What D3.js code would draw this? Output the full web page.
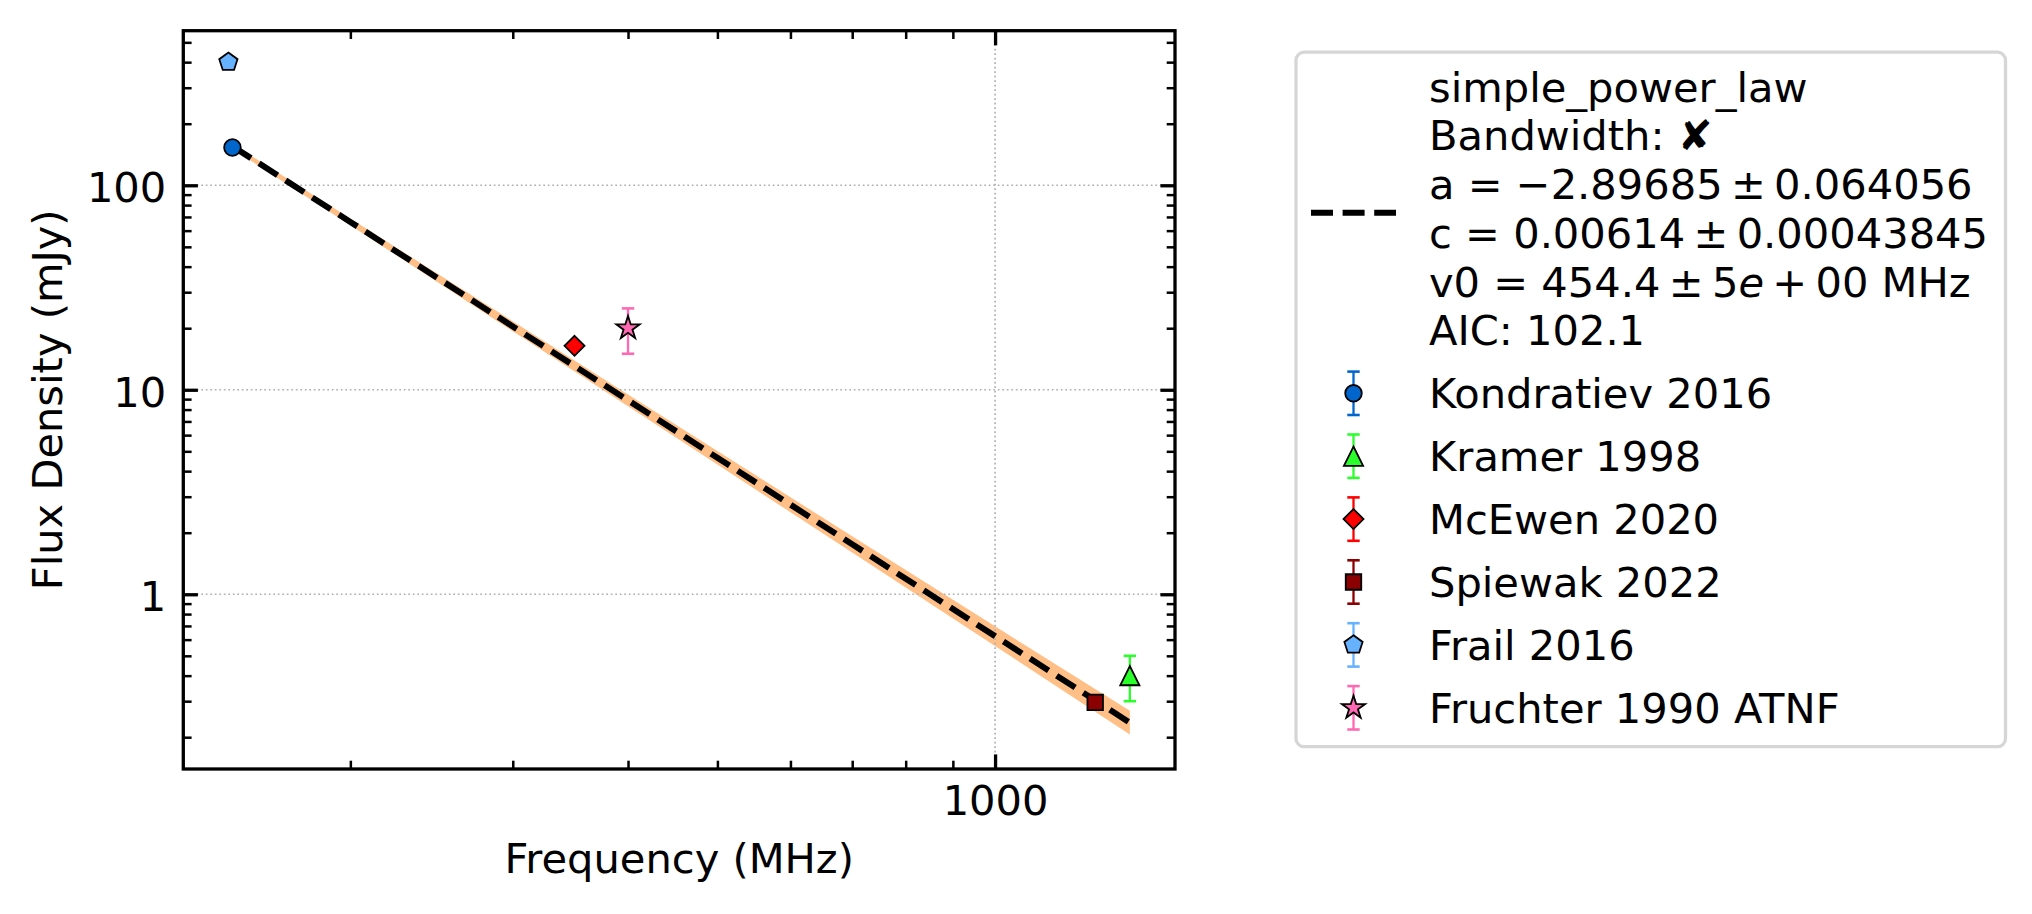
<!DOCTYPE html>
<html>
<head>
<meta charset="utf-8">
<script src="https://cdn.jsdelivr.net/npm/d3@7"></script>
<style>
    body { margin: 0; background: #fff; }
    text { font-family: "DejaVu Sans", sans-serif; }
</style>
</head>
<body>
<div id="chart"></div>
<script>
// measured points, one entry per survey
var seriesNames = ['Kondratiev 2016', 'Kramer 1998', 'McEwen 2020', 'Spiewak 2022', 'Frail 2016', 'Fruchter 1990 ATNF'];
var seriesColors = ['#0066cc', '#2bff2b', '#ff0000', '#8b0000', '#66b2ff', '#ff69b4'];
var seriesMarkers = ['circle', 'triangle', 'diamond', 'square', 'pentagon', 'star'];
var freqMHz = [149, 1400, 350, 1284, 147.5, 400];
var fluxMJy = [153, 0.4, 16.4, 0.296, 400, 20];
var fluxErr = [5, 0.1, 0.5, 0.01, 10, 5];

// fitted power law and its uncertainty band
var fitFreq = [149, 200, 300, 400, 500, 700, 1000, 1400];
var fitFlux = [155.2, 66.2, 20.4, 8.88, 4.65, 1.756, 0.624, 0.2357];
var fitLower = [151.0, 63.8, 19.3, 8.31, 4.31, 1.60, 0.559, 0.206];
var fitUpper = [159.5, 68.7, 21.6, 9.49, 5.02, 1.92, 0.697, 0.269];

var fitLabel = [
    'simple_power_law',
    'Bandwidth: \u2718',
    'a = \u22122.89685\u2009\u00b1\u20090.064056',
    'c = 0.00614\u2009\u00b1\u20090.00043845',
    'v0 = 454.4\u2009\u00b1\u20095{e}\u2009+\u200900 MHz',
    'AIC: 102.1'
];

// axes
var xDomain = [131.8, 1567];
var yDomain = [0.1398, 570];
var xMajor = [1000];
var xMinor = [200, 300, 400, 500, 600, 700, 800, 900];
var yMajor = [1, 10, 100];
var yMinor = [0.2, 0.3, 0.4, 0.5, 0.6, 0.7, 0.8, 0.9, 2, 3, 4, 5, 6, 7, 8, 9,
    20, 30, 40, 50, 60, 70, 80, 90, 200, 300, 400, 500];
var xTitle = 'Frequency (MHz)';
var yTitle = 'Flux Density (mJy)';

var W = 2032, H = 914, FS = 41.6;
var L = 183.3, R = 1175, T = 30.7, B = 769;

var svg = d3.select('#chart').append('svg').attr('width', W).attr('height', H);

var x = d3.scaleLog().domain(xDomain).range([L, R]);
var y = d3.scaleLog().domain(yDomain).range([B, T]);

/* --------- MARKERS ---------*/
function polygonSymbol(pts) {
    return {
        draw: function (context, size) {
            var r = Math.sqrt(size);
            pts.forEach(function (p, i) {
                if (i === 0) context.moveTo(p[0] * r, p[1] * r);
                else context.lineTo(p[0] * r, p[1] * r);
            });
            context.closePath();
        }
    };
}
var pentPts = [0, 1, 2, 3, 4].map(function (i) {
    var a = -Math.PI / 2 + i * 2 * Math.PI / 5;
    return [Math.cos(a), Math.sin(a)];
});
var markerDefs = {
    circle: { type: d3.symbolCircle, size: Math.PI * 8.3 * 8.3 },
    square: { type: d3.symbolSquare, size: 15.5 * 15.5 },
    triangle: { type: polygonSymbol([[0, -1], [-1, 1], [1, 1]]), size: 9.6 * 9.6 },
    diamond: { type: polygonSymbol([[0, -1], [1, 0], [0, 1], [-1, 0]]), size: 10 * 10 },
    pentagon: { type: polygonSymbol(pentPts), size: 9.6 * 9.6 },
    star: { type: d3.symbolStar, size: 12.2 * 12.2 / 0.8908130915 }
};
function markerPath(name) {
    return d3.symbol().type(markerDefs[name].type).size(markerDefs[name].size)();
}

/* --------- GRID ---------*/
var grid = svg.append('g').attr('class', 'grid')
    .attr('stroke', '#b0b0b0').attr('stroke-width', 1.7).attr('stroke-dasharray', '1.7,2.8');

/* --------- BAND & FIT ---------*/
var band = fitFreq.map(function (f, i) { return { f: f, lo: fitLower[i], hi: fitUpper[i], v: fitFlux[i] }; });

svg.insert('path', '.grid')
    .datum(band)
    .attr('fill', '#ff7f0e')
    .attr('fill-opacity', 0.5)
    .attr('d', d3.area()
        .x(function (d) { return x(d.f); })
        .y0(function (d) { return y(d.lo); })
        .y1(function (d) { return y(d.hi); }));

grid.selectAll('line.gx').data(xMajor).enter().append('line')
    .attr('x1', function (d) { return x(d); }).attr('x2', function (d) { return x(d); })
    .attr('y1', T).attr('y2', B);
grid.selectAll('line.gy').data(yMajor).enter().append('line')
    .attr('y1', function (d) { return y(d); }).attr('y2', function (d) { return y(d); })
    .attr('x1', L).attr('x2', R);

svg.append('path')
    .datum(band)
    .attr('fill', 'none')
    .attr('stroke', 'black')
    .attr('stroke-width', 6)
    .attr('stroke-dasharray', '22,9.6')
    .attr('d', d3.line()
        .x(function (d) { return x(d.f); })
        .y(function (d) { return y(d.v); }));

/* --------- POINTS ---------*/
var points = seriesNames.map(function (n, i) {
    return { name: n, color: seriesColors[i], marker: seriesMarkers[i], f: freqMHz[i], v: fluxMJy[i], e: fluxErr[i] };
});

function drawErrorBar(g, cx, yTop, yBot, color) {
    g.append('line').attr('x1', cx).attr('x2', cx).attr('y1', yTop).attr('y2', yBot)
        .attr('stroke', color).attr('stroke-width', 2.3);
    [yTop, yBot].forEach(function (yy) {
        g.append('line').attr('x1', cx - 6.2).attr('x2', cx + 6.2).attr('y1', yy).attr('y2', yy)
            .attr('stroke', color).attr('stroke-width', 2.6);
    });
}

var pts = svg.append('g').attr('class', 'points');
points.forEach(function (d) {
    var g = pts.append('g');
    drawErrorBar(g, x(d.f), y(d.v + d.e), y(d.v - d.e), d.color);
    g.append('path')
        .attr('transform', 'translate(' + x(d.f) + ',' + y(d.v) + ')')
        .attr('d', markerPath(d.marker))
        .attr('fill', d.color)
        .attr('stroke', 'black')
        .attr('stroke-width', 1.8)
        .attr('stroke-linejoin', 'miter');
});

/* --------- AXES ---------*/
var axes = [
    { gen: d3.axisBottom, scale: x, pos: 'translate(0,' + B + ')', major: xMajor, minor: xMinor, label: true, pad: 16.4 },
    { gen: d3.axisTop, scale: x, pos: 'translate(0,' + T + ')', major: xMajor, minor: xMinor, label: false, pad: 0 },
    { gen: d3.axisLeft, scale: y, pos: 'translate(' + L + ',0)', major: yMajor, minor: yMinor, label: true, pad: 17 },
    { gen: d3.axisRight, scale: y, pos: 'translate(' + R + ',0)', major: yMajor, minor: yMinor, label: false, pad: 0 }
];

axes.forEach(function (a) {
    var gMinor = svg.append('g').attr('transform', a.pos)
        .call(a.gen(a.scale).tickValues(a.minor).tickSizeInner(-8.3).tickSizeOuter(0).tickFormat(''));
    gMinor.selectAll('.tick line').attr('stroke', 'black').attr('stroke-width', 2.5);

    var gMajor = svg.append('g').attr('transform', a.pos)
        .call(a.gen(a.scale).tickValues(a.major).tickSizeInner(-14.6).tickSizeOuter(0)
            .tickPadding(a.pad).tickFormat(a.label ? d3.format('d') : ''));
    gMajor.selectAll('.tick line').attr('stroke', 'black').attr('stroke-width', 3.3);
    gMajor.selectAll('.tick text')
        .attr('font-family', '"DejaVu Sans", sans-serif')
        .attr('font-size', FS)
        .attr('fill', 'black');
    if (a.gen === d3.axisLeft) gMajor.selectAll('.tick text').attr('dy', '0.39em');

    gMinor.selectAll('.domain').remove();
    gMajor.selectAll('.domain').remove();
});

svg.append('rect')
    .attr('x', L).attr('y', T)
    .attr('width', R - L).attr('height', B - T)
    .attr('fill', 'none').attr('stroke', 'black').attr('stroke-width', 3.3);

/* --------- TITLES ---------*/
svg.append('text')
    .attr('x', (L + R) / 2).attr('y', 873)
    .attr('text-anchor', 'middle')
    .attr('font-size', FS)
    .text(xTitle);

svg.append('text')
    .attr('transform', 'translate(61.7,' + (T + B) / 2 + ') rotate(-90)')
    .attr('text-anchor', 'middle')
    .attr('font-size', FS)
    .text(yTitle);

/* --------- LEGEND ---------*/
var leg = svg.append('g').attr('class', 'legend');
leg.append('rect')
    .attr('x', 1296).attr('y', 52.2)
    .attr('width', 2005.5 - 1296).attr('height', 746.7 - 52.2)
    .attr('rx', 8).attr('ry', 8)
    .attr('fill', 'white').attr('fill-opacity', 0.8)
    .attr('stroke', '#d6d6d6').attr('stroke-width', 3.3);

var handleX = 1353.5, textX = 1429;

leg.append('line')
    .attr('x1', 1311).attr('x2', 1396)
    .attr('y1', 212.7).attr('y2', 212.7)
    .attr('stroke', 'black').attr('stroke-width', 6)
    .attr('stroke-dasharray', '22,9.6');

fitLabel.forEach(function (s, i) {
    var t = leg.append('text')
        .attr('x', textX).attr('y', 101.7 + i * 48.7)
        .attr('font-size', FS);
    s.split(/(\{e\})/).forEach(function (part) {
        if (part === '{e}') t.append('tspan').attr('font-style', 'italic').text('e');
        else if (part) t.append('tspan').text(part);
    });
});

points.forEach(function (d, i) {
    var base = 408.3 + i * 62.9, cy = base - 15;
    var g = leg.append('g');
    drawErrorBar(g, handleX, cy - 21.7, cy + 21.7, d.color);
    g.append('path')
        .attr('transform', 'translate(' + handleX + ',' + cy + ')')
        .attr('d', markerPath(d.marker))
        .attr('fill', d.color)
        .attr('stroke', 'black')
        .attr('stroke-width', 1.8);
    g.append('text')
        .attr('x', textX).attr('y', base)
        .attr('font-size', FS)
        .text(d.name);
});
</script>
</body>
</html>
